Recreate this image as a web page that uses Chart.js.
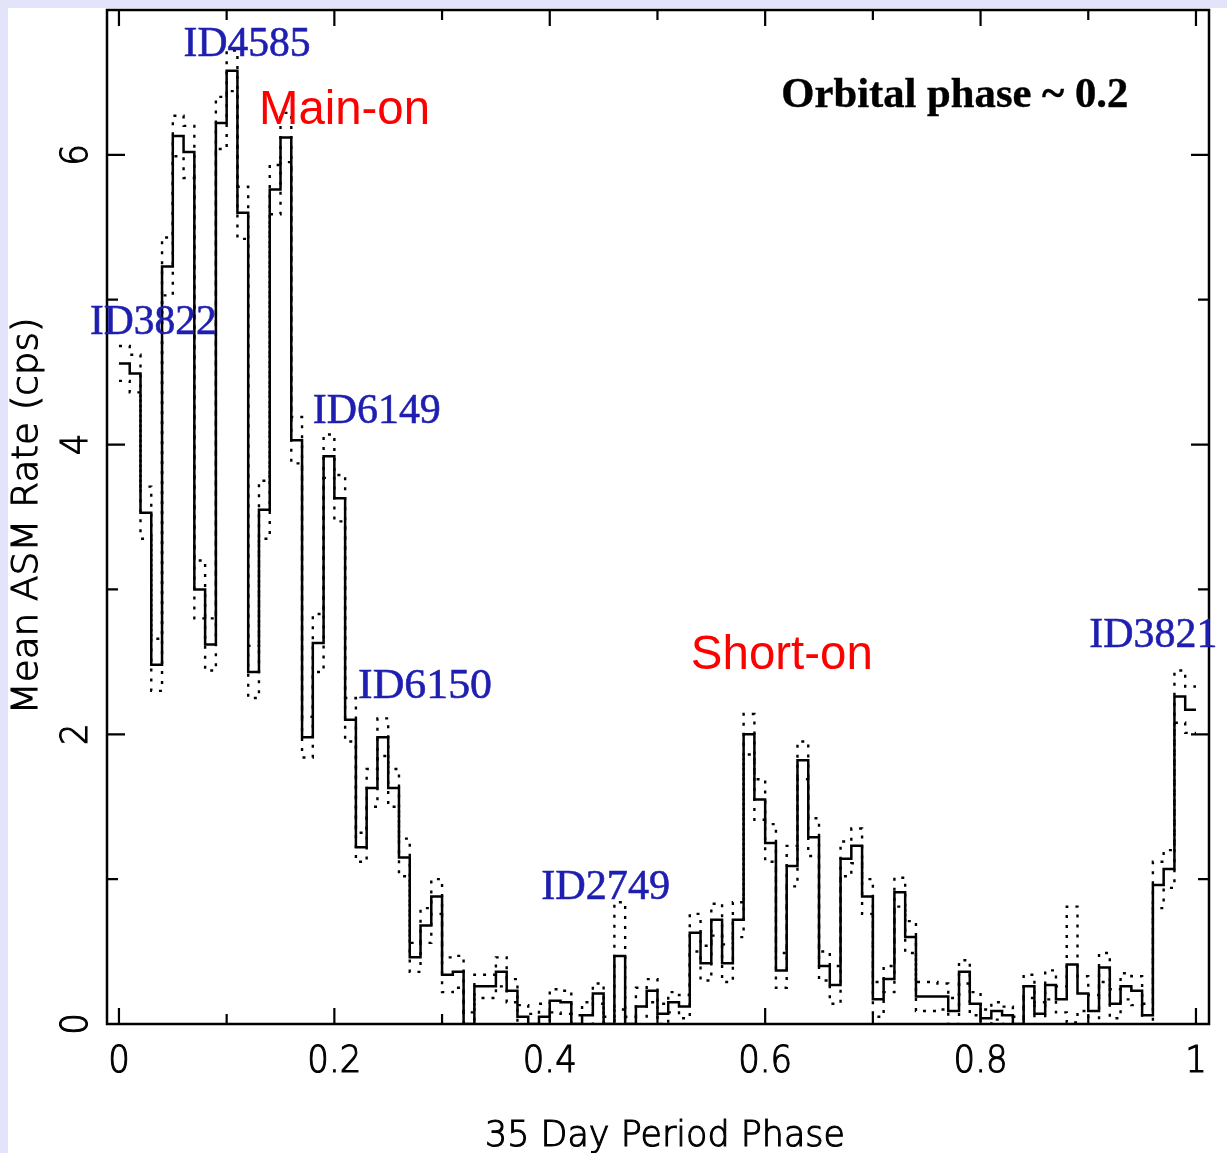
<!DOCTYPE html>
<html>
<head>
<meta charset="utf-8">
<title>Mean ASM Rate vs 35 Day Period Phase</title>
<script src="https://cdn.jsdelivr.net/npm/chart.js@4/dist/chart.umd.min.js"></script>
<style>
  html, body { margin: 0; padding: 0; background: #fff; }
  #wrap { position: relative; width: 1227px; height: 1153px; }
</style>
</head>
<body>
<div id="wrap"><canvas id="chart" width="1227" height="1153"></canvas></div>
<script>
// 35 day phase bins, 0.01 wide, starting at phase 0
const BIN_WIDTH = 0.01;

// mean ASM rate per bin (cps)
const rates = [
  4.56, 4.49, 3.53, 2.48, 5.23, 6.13, 6.02, 3.00, 2.62, 6.22,
  6.58, 5.60, 2.43, 3.55, 5.76, 6.12, 4.03, 1.98, 2.63, 3.92,
  3.63, 2.10, 1.22, 1.63, 1.98, 1.63, 1.15, 0.46, 0.68, 0.88,
  0.34, 0.36, 0.00, 0.26, 0.26, 0.36, 0.23, 0.05, 0.00, 0.05,
  0.16, 0.15, 0.00, 0.06, 0.21, 0.00, 0.47, 0.00, 0.12, 0.23,
  0.07, 0.15, 0.12, 0.63, 0.42, 0.72, 0.42, 0.72, 2.00, 1.55,
  1.25, 0.37, 1.09, 1.82, 1.29, 0.40, 0.27, 1.14, 1.23, 0.88,
  0.17, 0.31, 0.91, 0.60, 0.19, 0.19, 0.19, 0.09, 0.36, 0.14,
  0.04, 0.09, 0.06, 0.00, 0.26, 0.07, 0.27, 0.17, 0.41, 0.21,
  0.09, 0.39, 0.14, 0.26, 0.23, 0.06, 0.96, 1.07, 2.26, 2.17
];

// 1-sigma error per bin (the dotted curves)
const errors = [
  0.12, 0.13, 0.18, 0.18, 0.20, 0.14, 0.18, 0.20, 0.18, 0.18,
  0.14, 0.18, 0.18, 0.20, 0.17, 0.17, 0.16, 0.14, 0.20, 0.15,
  0.16, 0.15, 0.10, 0.13, 0.13, 0.13, 0.13, 0.10, 0.12, 0.12,
  0.12, 0.11, 0.08, 0.08, 0.08, 0.10, 0.08, 0.08, 0.07, 0.09,
  0.08, 0.08, 0.06, 0.09, 0.07, 0.05, 0.37, 0.05, 0.13, 0.08,
  0.07, 0.07, 0.08, 0.13, 0.12, 0.11, 0.13, 0.12, 0.14, 0.14,
  0.13, 0.12, 0.14, 0.13, 0.13, 0.10, 0.13, 0.12, 0.12, 0.12,
  0.12, 0.09, 0.10, 0.11, 0.10, 0.10, 0.09, 0.09, 0.08, 0.08,
  0.06, 0.06, 0.06, 0.05, 0.08, 0.08, 0.10, 0.09, 0.40, 0.12,
  0.11, 0.10, 0.10, 0.09, 0.10, 0.08, 0.16, 0.13, 0.18, 0.16
];

const xMajorTicks = [0, 0.2, 0.4, 0.6, 0.8, 1];
const xMajorLabels = ["0", "0.2", "0.4", "0.6", "0.8", "1"];
const xMinorTicks = [0.1, 0.3, 0.5, 0.7, 0.9];
const yMajorTicks = [0, 2, 4, 6];
const yMajorLabels = ["0", "2", "4", "6"];
const yMinorTicks = [1, 3, 5];

const xTitle = "35 Day Period Phase";
const yTitle = "Mean ASM Rate (cps)";

// text notes, anchored at (phase, rate) = left end of baseline
const notes = [
  { text: "ID4585", phase: 0.060, rate: 6.68, width: 127, kind: "id" },
  { text: "Main-on", phase: 0.130, rate: 6.21, width: 171, kind: "state" },
  { text: "Orbital phase ~ 0.2", phase: 0.615, rate: 6.33, width: 347, kind: "orbit" },
  { text: "ID3822", phase: -0.027, rate: 4.76, width: 127, kind: "id" },
  { text: "ID6149", phase: 0.180, rate: 4.15, width: 128, kind: "id" },
  { text: "ID6150", phase: 0.222, rate: 2.25, width: 134, kind: "id" },
  { text: "Short-on", phase: 0.531, rate: 2.45, width: 182, kind: "state" },
  { text: "ID2749", phase: 0.392, rate: 0.86, width: 129, kind: "id" },
  { text: "ID3821", phase: 0.901, rate: 2.60, width: 128, kind: "id" }
];

const noteStyles = {
  id: { font: "42px 'Liberation Serif', 'Times New Roman', serif", color: "#1e1eb0", stroke: 0.6 },
  state: { font: "48px 'Liberation Sans', Arial, sans-serif", color: "#ff0000", stroke: 0 },
  orbit: { font: "bold 42px 'Liberation Serif', 'Times New Roman', serif", color: "#000000", stroke: 0.4 }
};

const AXIS_FONT = "200 37px 'DejaVu Sans', sans-serif";
const TITLE_FONT = "200 36px 'DejaVu Sans', sans-serif";
const AXIS_TEXT = "#000000";
const AXIS_STROKE = 1.1;

function toSteps(values) {
  const pts = values.map((v, i) => ({ x: i * BIN_WIDTH, y: v }));
  pts.push({ x: values.length * BIN_WIDTH, y: values[values.length - 1] });
  return pts;
}

// draw text squeezed/stretched to a given width, with an optional outline to thicken strokes
function fitText(ctx, text, x, y, width, align, stroke) {
  const w = ctx.measureText(text).width;
  const sx = width / w;
  ctx.save();
  ctx.translate(x, y);
  ctx.scale(sx, 1);
  ctx.textAlign = "left";
  const x0 = align === "center" ? -w / 2 : 0;
  ctx.fillText(text, x0, 0);
  if (stroke) {
    ctx.strokeStyle = ctx.fillStyle;
    ctx.lineWidth = stroke;
    ctx.strokeText(text, x0, 0);
  }
  ctx.restore();
}

const pagePlugin = {
  id: "page",
  beforeDraw(chart) {
    const ctx = chart.ctx;
    ctx.save();
    ctx.fillStyle = "#ffffff";
    ctx.fillRect(0, 0, chart.width, chart.height);
    ctx.fillStyle = "#e3e3f9";
    ctx.fillRect(0, 0, chart.width, 8);
    ctx.fillRect(0, 0, 8, chart.height);
    ctx.restore();
  }
};

const framePlugin = {
  id: "frame",
  afterDatasetsDraw(chart) {
    const ctx = chart.ctx;
    const area = chart.chartArea;
    const xs = chart.scales.x;
    const ys = chart.scales.y;

    ctx.save();
    ctx.strokeStyle = "#000";
    ctx.lineWidth = 2.5;
    ctx.strokeRect(area.left, area.top, area.right - area.left, area.bottom - area.top);

    // inward ticks on all four sides
    ctx.lineWidth = 2.2;
    ctx.beginPath();
    const xTick = (v, len) => {
      const px = xs.getPixelForValue(v);
      ctx.moveTo(px, area.bottom); ctx.lineTo(px, area.bottom - len);
      ctx.moveTo(px, area.top); ctx.lineTo(px, area.top + len);
    };
    const yTick = (v, len) => {
      const py = ys.getPixelForValue(v);
      ctx.moveTo(area.left, py); ctx.lineTo(area.left + len, py);
      ctx.moveTo(area.right, py); ctx.lineTo(area.right - len, py);
    };
    xMajorTicks.forEach((v) => xTick(v, 16));
    xMinorTicks.forEach((v) => xTick(v, 10));
    yMajorTicks.forEach((v) => yTick(v, 18));
    yMinorTicks.forEach((v) => yTick(v, 11));
    ctx.stroke();

    // tick labels
    ctx.font = AXIS_FONT;
    ctx.fillStyle = AXIS_TEXT;
    ctx.textBaseline = "alphabetic";
    const sx = 54 / ctx.measureText("0.2").width;
    xMajorTicks.forEach((v, i) => {
      const w = ctx.measureText(xMajorLabels[i]).width * sx;
      fitText(ctx, xMajorLabels[i], xs.getPixelForValue(v), area.bottom + 48, w, "center", AXIS_STROKE);
    });
    yMajorTicks.forEach((v, i) => {
      const w = ctx.measureText(yMajorLabels[i]).width * sx;
      ctx.save();
      ctx.translate(area.left - 20, ys.getPixelForValue(v));
      ctx.rotate(-Math.PI / 2);
      fitText(ctx, yMajorLabels[i], 0, 0, w, "center", AXIS_STROKE);
      ctx.restore();
    });

    // axis titles
    ctx.font = TITLE_FONT;
    fitText(ctx, xTitle, (area.left + area.right) / 2 + 7, area.bottom + 122, 360, "center", AXIS_STROKE);
    ctx.save();
    ctx.translate(37, (area.top + area.bottom) / 2 - 1);
    ctx.rotate(-Math.PI / 2);
    fitText(ctx, yTitle, 0, 0, 397, "center", AXIS_STROKE);
    ctx.restore();

    // notes
    notes.forEach((n) => {
      const st = noteStyles[n.kind];
      ctx.font = st.font;
      ctx.fillStyle = st.color;
      fitText(ctx, n.text, xs.getPixelForValue(n.phase), ys.getPixelForValue(n.rate), n.width, "left", st.stroke);
    });
    ctx.restore();
  }
};

const upper = rates.map((v, i) => v + errors[i]);
const lower = rates.map((v, i) => v - errors[i]);

new Chart(document.getElementById("chart"), {
  type: "line",
  data: {
    datasets: [
      {
        label: "upper",
        data: toSteps(upper),
        borderColor: "#000",
        borderWidth: 2.4,
        borderDash: [3, 7],
        stepped: true,
        pointRadius: 0,
        fill: false,
        clip: 0
      },
      {
        label: "lower",
        data: toSteps(lower),
        borderColor: "#000",
        borderWidth: 2.4,
        borderDash: [3, 7],
        stepped: true,
        pointRadius: 0,
        fill: false,
        clip: 0
      },
      {
        label: "Mean ASM Rate",
        data: toSteps(rates),
        borderColor: "#000",
        borderWidth: 2.5,
        stepped: true,
        pointRadius: 0,
        fill: false
      }
    ]
  },
  options: {
    responsive: false,
    animation: false,
    layout: { padding: { left: 107, top: 10, right: 18, bottom: 129 } },
    scales: {
      x: { type: "linear", min: -0.0111, max: 1.0121, display: false },
      y: { type: "linear", min: 0, max: 7, display: false }
    },
    plugins: {
      legend: { display: false },
      tooltip: { enabled: false }
    }
  },
  plugins: [pagePlugin, framePlugin]
});
</script>
</body>
</html>
